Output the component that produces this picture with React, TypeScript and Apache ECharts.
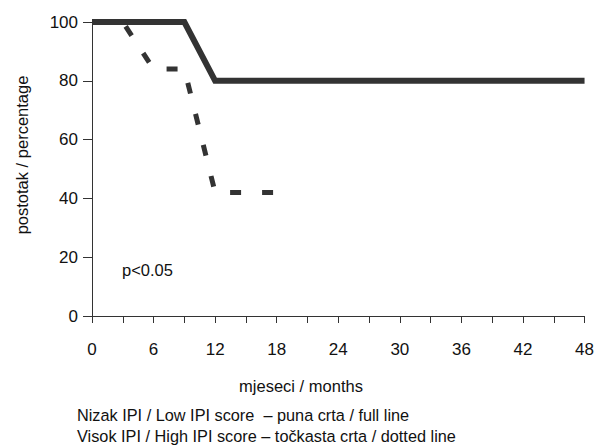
import React, { useEffect, useRef } from "react";
import * as echarts from "echarts";

const lowIpiSolid: [number, number][] = [
  [0, 100],
  [9, 100],
  [12, 80],
  [48, 80],
];
const highIpiDotted: [number, number][] = [
  [0, 100],
  [3, 100],
  [6, 84],
  [9, 84],
  [12, 42],
  [18, 42],
];
const xTickLabels = [0, 6, 12, 18, 24, 30, 36, 42, 48];
const yTickLabels = [0, 20, 40, 60, 80, 100];
const yName = "postotak / percentage";
const xName = "mjeseci / months";
const pText = "p<0.05";
const legendLines = [
  "Nizak IPI / Low IPI score  – puna crta / full line",
  "Visok IPI / High IPI score – točkasta crta / dotted line",
];

const FONT = "'Liberation Sans', Arial, Helvetica, sans-serif";

export default function App() {
  const ref = useRef<HTMLDivElement>(null);
  useEffect(() => {
    if (!ref.current) return;
    const chart = echarts.init(ref.current, null, { renderer: "svg" });
    const axisColor = "#333";
    chart.setOption({
      animation: false,
      backgroundColor: "#fff",
      grid: { left: 92, top: 22, right: 11, bottom: 131, containLabel: false },
      xAxis: {
        type: "value",
        min: 0,
        max: 48,
        interval: 3,
        splitLine: { show: false },
        axisLine: { onZero: false, lineStyle: { color: axisColor, width: 1 } },
        axisTick: { show: true, length: 7, inside: false, lineStyle: { color: axisColor } },
        axisLabel: {
          margin: 25,
          fontFamily: FONT,
          fontSize: 17,
          color: "#111",
          formatter: (v: number) => (xTickLabels.includes(v) ? String(v) : ""),
        },
      },
      yAxis: {
        type: "value",
        min: 0,
        max: 100,
        interval: 20,
        splitLine: { show: false },
        axisLine: { show: true, lineStyle: { color: axisColor, width: 1 } },
        axisTick: { show: true, length: 9, lineStyle: { color: axisColor } },
        axisLabel: {
          margin: 14,
          fontFamily: FONT,
          fontSize: 17,
          color: "#111",
          formatter: (v: number) => (yTickLabels.includes(v) ? String(v) : ""),
        },
      },
      graphic: [
        {
          type: "text",
          x: 22,
          y: 155,
          rotation: Math.PI / 2,
          style: {
            text: yName,
            fontFamily: FONT,
            fontSize: 16.5,
            fill: "#111",
            textAlign: "center",
            textVerticalAlign: "middle",
          },
        },
        {
          type: "text",
          x: 301,
          y: 386,
          style: {
            text: xName,
            fontFamily: FONT,
            fontSize: 16.5,
            fill: "#111",
            textAlign: "center",
            textVerticalAlign: "middle",
          },
        },
        {
          type: "text",
          x: 122,
          y: 270,
          style: {
            text: pText,
            fontFamily: FONT,
            fontSize: 16.5,
            fill: "#111",
            textAlign: "left",
            textVerticalAlign: "middle",
          },
        },
        {
          type: "text",
          x: 77,
          y: 415,
          style: {
            text: legendLines[0],
            fontFamily: FONT,
            fontSize: 16.3,
            fill: "#111",
            textAlign: "left",
            textVerticalAlign: "middle",
          },
        },
        {
          type: "text",
          x: 77,
          y: 436,
          style: {
            text: legendLines[1],
            fontFamily: FONT,
            fontSize: 16.3,
            fill: "#111",
            textAlign: "left",
            textVerticalAlign: "middle",
          },
        },
      ],
      series: [
        {
          type: "line",
          data: highIpiDotted,
          symbol: "none",
          z: 2,
          lineStyle: { color: "#333", width: 5, type: [11, 21], dashOffset: 28, cap: "butt" },
        },
        {
          type: "line",
          data: lowIpiSolid,
          symbol: "none",
          z: 3,
          lineStyle: { color: "#333", width: 6, type: "solid", join: "miter" },
        },
      ],
    });
    return () => chart.dispose();
  }, []);
  return (
    <div
      ref={ref}
      style={{ position: "fixed", left: 0, top: 0, width: 597, height: 447 }}
    />
  );
}
